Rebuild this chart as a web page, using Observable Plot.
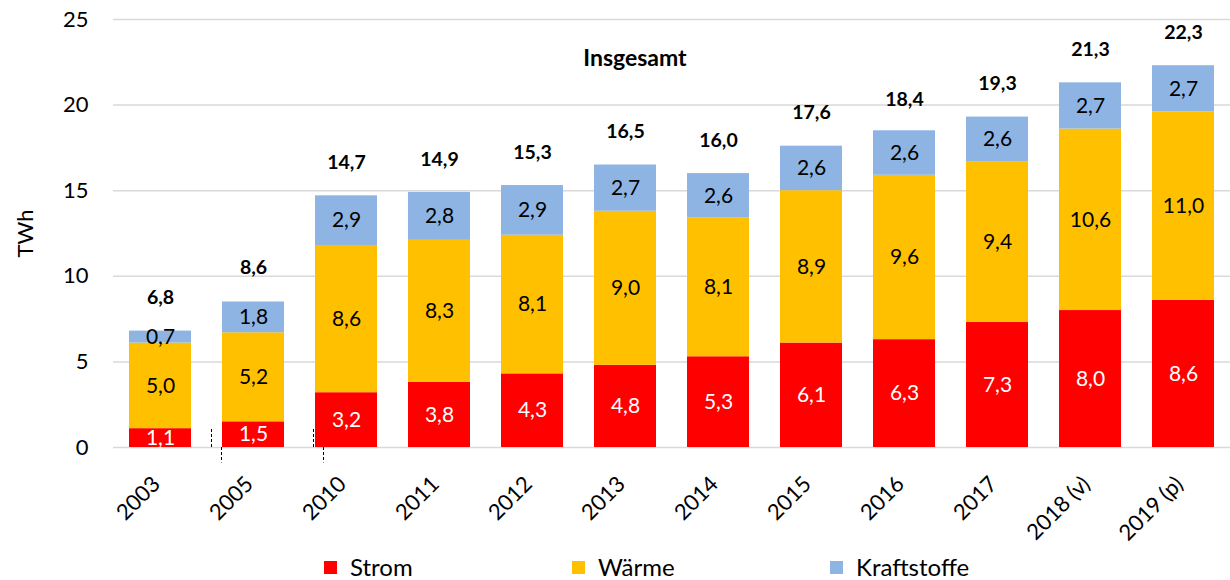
<!DOCTYPE html>
<html><head><meta charset="utf-8">
<script src="https://cdn.jsdelivr.net/npm/d3@7"></script>
<script src="https://cdn.jsdelivr.net/npm/@observablehq/plot@0.6"></script>
<style>
body{margin:0;background:#fff;font-family:Lato,"Noto Sans",sans-serif;}
#legend{position:relative;height:30px;width:1230px;font-size:24px;color:#000;}
#legend .it{position:absolute;top:5px;display:flex;align-items:center;line-height:24px;}
#legend .sw{width:13px;height:13px;margin-right:13px;display:inline-block;}
</style></head>
<body><div id="chart"></div><div id="legend"></div>
<script>
const years = ["2003","2005","2010","2011","2012","2013","2014","2015","2016","2017","2018 (v)","2019 (p)"];
const strom = [1.1,1.5,3.2,3.8,4.3,4.8,5.3,6.1,6.3,7.3,8.0,8.6];
const waerme = [5.0,5.2,8.6,8.3,8.1,9.0,8.1,8.9,9.6,9.4,10.6,11.0];
const kraftstoffe = [0.7,1.8,2.9,2.8,2.9,2.7,2.6,2.6,2.6,2.6,2.7,2.7];
const totals = [6.8,8.6,14.7,14.9,15.3,16.5,16.0,17.6,18.4,19.3,21.3,22.3];
const seriesNames = ["Strom","Wärme","Kraftstoffe"];
const seriesColors = ["#ff0000","#ffc000","#8eb4e3"];
const labelColors = ["#ffffff","#000000","#000000"];
const yTicks = [0,5,10,15,20,25];

const seriesValues = [strom, waerme, kraftstoffe];
const rows = [];
years.forEach((y,i)=>seriesNames.forEach((s,j)=>rows.push({year:y, series:s, value:seriesValues[j][i], lc:labelColors[j]})));
const totalRows = years.map((y,i)=>({year:y, total:totals[i]}));
const fmt = v => d3.format(".1f")(v).replace(".", ",");
const dash = {stroke:"#000", strokeWidth:1, strokeDasharray:"3,2"};

const chart = Plot.plot({
  width:1230, height:550,
  marginLeft:113, marginRight:0, marginTop:19, marginBottom:103,
  style:{fontFamily:"Lato, 'Noto Sans', sans-serif", fontSize:"22px", color:"#000", background:"#fff"},
  x:{domain:years, paddingInner:0.335, paddingOuter:0.165, label:null},
  y:{domain:[0,25], ticks:yTicks, label:"TWh"},
  color:{domain:seriesNames, range:seriesColors},
  marks:[
    Plot.gridY(yTicks, {stroke:"#d9d9d9", strokeOpacity:1, strokeWidth:1.5}),
    Plot.axisY({ticks:yTicks, tickSize:0, tickPadding:25, label:"TWh", labelAnchor:"center", labelArrow:"none", labelOffset:96, fontSize:22}),
    Plot.axisX({tickSize:0, tickRotate:-45, tickPadding:33, dx:-4, fontSize:22, label:null}),
    Plot.barY(rows, {x:"year", y:"value", fill:"series", order:null}),
    Plot.text(rows, Plot.stackY({x:"year", y:"value", order:null, text:d=>fmt(d.value), fill:"lc", fontSize:21})),
    Plot.text(totalRows, {x:"year", y:"total", text:d=>fmt(d.total), dy:-33, fontWeight:"bold", fontSize:19.5}),
    Plot.text(["Insgesamt"], {frameAnchor:"top", dx:-37, dy:39, lineAnchor:"middle", fontWeight:"bold", fontSize:23}),
    Plot.ruleX(["2005"], {x:d=>d, y1:0, y2:1.1, dx:-42, ...dash}),
    Plot.ruleX(["2005"], {x:d=>d, y1:0, y2:-0.9, dx:-32, ...dash}),
    Plot.ruleX(["2010"], {x:d=>d, y1:0, y2:1.1, dx:-33, ...dash}),
    Plot.ruleX(["2010"], {x:d=>d, y1:0, y2:-0.9, dx:-23, ...dash})
  ]
});
document.getElementById("chart").appendChild(chart);

const legendX = [324, 572, 830];
const leg = document.getElementById("legend");
seriesNames.forEach((s,i)=>{
  const it = document.createElement("div");
  it.className = "it"; it.style.left = legendX[i]+"px";
  it.innerHTML = `<span class="sw" style="background:${seriesColors[i]}"></span><span>${s}</span>`;
  leg.appendChild(it);
});
</script></body></html>
